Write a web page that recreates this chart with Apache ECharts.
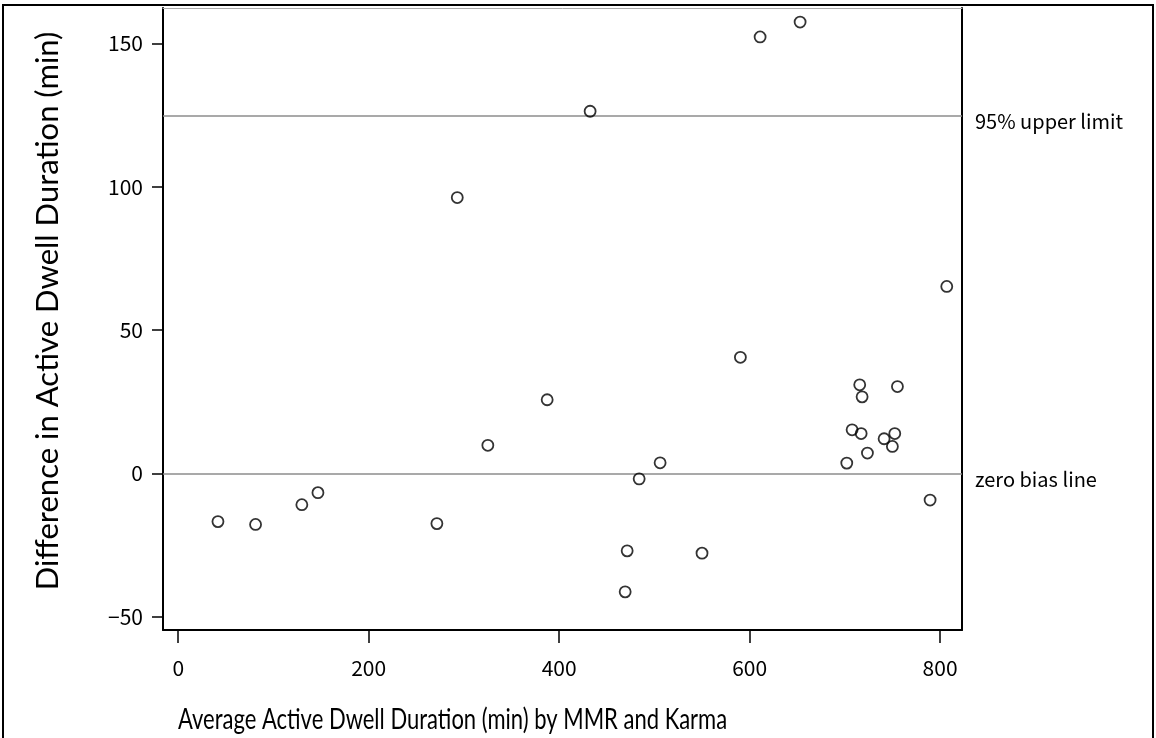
<!DOCTYPE html>
<html>
<head>
<meta charset="utf-8">
<script src="https://cdn.jsdelivr.net/npm/echarts@6/dist/echarts.min.js"></script>
<style>
  html, body { margin: 0; padding: 0; background: #fff; }
  #chart { width: 1156px; height: 738px; }
</style>
</head>
<body>
<div id="chart"></div>
<script>
// Bland-Altman style agreement data: mean of the two methods vs. their difference
const avgDuration = [41.7, 81.2, 129.8, 146.7, 271.6, 293, 325.1, 387.4, 432.5, 469.3,
  471.4, 484, 506, 550, 590.3, 611, 653, 702, 707.6, 715.6,
  717.1, 718.1, 723.7, 741.2, 749.9, 752.4, 755.2, 789.5, 807];
const diffDuration = [-16.8, -17.8, -10.9, -6.7, -17.5, 96.2, 9.8, 25.7, 126.3, -41.3,
  -27, -1.9, 3.7, -27.8, 40.5, 152.2, 157.4, 3.6, 15.2, 30.9,
  13.9, 26.7, 7.1, 12.1, 9.4, 13.9, 30.3, -9.3, 65.2];

const xTicks = [0, 200, 400, 600, 800];
const yTicks = [-50, 0, 50, 100, 150];

const upperLimit = 124.7;
const zeroBias = 0;
const refLabels = ['95% upper limit', 'zero bias line'];
const xTitle = 'Average Active Dwell Duration (min) by MMR and Karma';
const yTitle = 'Difference in Active Dwell Duration (min)';

const points = avgDuration.map((v, i) => [v, diffDuration[i]]);

const tickFont = 'Noto Sans CJK JP';
const titleFont = 'Lato';
const minusSign = v => String(v).replace('-', '\u2212');

const chart = echarts.init(document.getElementById('chart'), null, { renderer: 'canvas' });

chart.setOption({
  animation: false,
  backgroundColor: '#fff',
  grid: { left: 163, right: 194, top: 8, bottom: 108, containLabel: false },
  xAxis: [{
    type: 'value',
    min: -16, max: 823,
    axisLine: { show: true, onZero: false, lineStyle: { color: '#000', width: 2 } },
    axisTick: { show: true, length: 13, lineStyle: { color: '#000', width: 1.5 }, customValues: xTicks },
    axisLabel: { margin: 28, fontFamily: tickFont, fontSize: 21, color: '#000', customValues: xTicks },
    splitLine: { show: false }
  }, {
    type: 'value',
    position: 'top',
    min: -16, max: 823,
    axisLine: { show: true, onZero: false, lineStyle: { color: '#aaa', width: 1 } },
    axisTick: { show: false },
    axisLabel: { show: false },
    splitLine: { show: false }
  }],
  yAxis: [{
    type: 'value',
    min: -54.6, max: 162.3,
    name: yTitle,
    nameLocation: 'middle',
    nameGap: 100,
    nameTextStyle: { fontFamily: titleFont, fontSize: 31, color: '#000', padding: [0, 0, 0, 16] },
    axisLine: { show: true, onZero: false, lineStyle: { color: '#000', width: 2 } },
    axisTick: { show: true, length: 11, lineStyle: { color: '#000', width: 1.5 }, customValues: yTicks },
    axisLabel: { margin: 20, fontFamily: tickFont, fontSize: 21, color: '#000', customValues: yTicks, formatter: minusSign },
    splitLine: { show: false }
  }, {
    type: 'value',
    position: 'right',
    min: -54.6, max: 162.3,
    axisLine: { show: true, onZero: false, lineStyle: { color: '#000', width: 2 } },
    axisTick: { show: false },
    axisLabel: { show: false },
    splitLine: { show: false }
  }],
  series: [{
    type: 'scatter',
    xAxisIndex: 0,
    yAxisIndex: 0,
    data: points,
    symbol: 'circle',
    symbolSize: 11,
    itemStyle: { color: 'rgba(255,255,255,0)', borderColor: '#000', borderWidth: 1.8 },
    z: 5,
    markLine: {
      silent: true,
      symbol: ['none', 'none'],
      z: 3,
      lineStyle: { color: '#8c8c8c', width: 1.6, type: 'solid' },
      label: {
        show: true,
        position: 'end',
        fontFamily: tickFont,
        fontSize: 20,
        color: '#000',
        padding: [0, 0, 0, 8],
        offset: [0, 6]
      },
      data: [
        { yAxis: upperLimit, label: { formatter: refLabels[0] } },
        { yAxis: zeroBias, label: { formatter: refLabels[1] } }
      ]
    }
  }],
  graphic: [{
    // x-axis title, set in a tall condensed look
    type: 'text',
    x: 178,
    y: 719,
    scaleY: 1.35,
    silent: true,
    style: {
      text: xTitle,
      x: 0, y: 0,
      align: 'left',
      verticalAlign: 'middle',
      font: '22px Lato',
      fill: '#000'
    }
  }, {
    // outer frame
    type: 'rect',
    shape: { x: 3, y: 5, width: 1150, height: 760 },
    style: { fill: 'none', stroke: '#000', lineWidth: 2 },
    silent: true
  }]
});
</script>
</body>
</html>
